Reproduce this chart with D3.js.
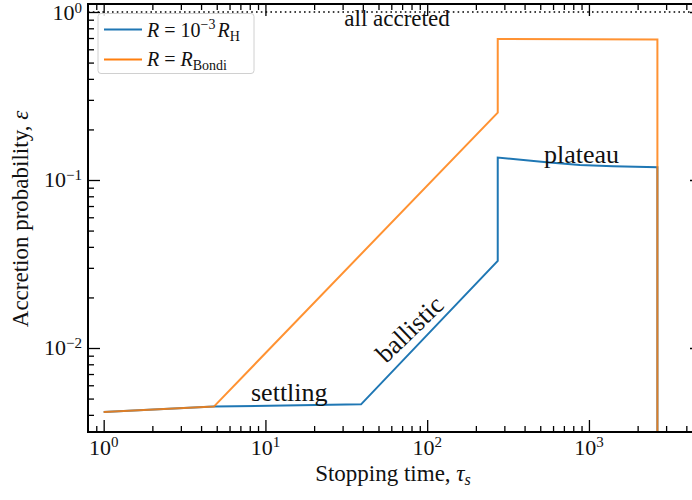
<!DOCTYPE html>
<html>
<head>
<meta charset="utf-8">
<script src="https://cdn.jsdelivr.net/npm/d3@7"></script>
<style>
  body { margin: 0; background: #fff; }
  text { font-family: "Liberation Serif", serif; fill: #111; }
</style>
</head>
<body>
<script>
// values
const tauSmall = [1, 4.8, 39, 273, 273, 547, 879, 1409, 2650, 2650]
const epsSmall = [0.00416, 0.00448, 0.00462, 0.033, 0.136, 0.1275, 0.1228, 0.1206, 0.119, 0.0001]
const tauBondi = [1, 4.8, 273, 273, 2650, 2650]
const epsBondi = [0.00416, 0.00448, 0.252, 0.69, 0.685, 0.0001]

const xMajor = [1, 10, 100, 1000]
const yMajor = [0.01, 0.1, 1]
const xLabels = ['0', '1', '2', '3']
const yLabels = ['\u22122', '\u22121', '0']

const W = 692, H = 500
const m = { left: 88, right: 702, top: 4, bottom: 432 }

const svg = d3.select('body').append('svg')
    .attr('width', W)
    .attr('height', H)

const x = d3.scaleLog().domain([0.8, 5000]).range([m.left, m.right])
const y = d3.scaleLog().domain([Math.pow(10, -2.5), 1.116]).range([m.bottom, m.top])

// minor tick positions, 2..9 in every decade
function minors(dom) {
    let out = []
    for (let e = -4; e <= 4; e++) {
        for (let k = 2; k <= 9; k++) {
            let v = k * Math.pow(10, e)
            if (v > dom[0] && v < dom[1]) out.push(v)
        }
    }
    return out
}

svg.append('clipPath').attr('id', 'clip')
  .append('rect')
    .attr('x', m.left).attr('y', m.top)
    .attr('width', m.right - m.left).attr('height', m.bottom - m.top)

const plot = svg.append('g').attr('clip-path', 'url(#clip)')

// all accreted line
plot.append('line')
    .attr('x1', m.left).attr('x2', m.right)
    .attr('y1', y(1)).attr('y2', y(1))
    .attr('stroke', '#000')
    .attr('stroke-width', 1.6)
    .attr('stroke-dasharray', '1.6,3.2')

const line = d3.line()
    .x(d => x(d[0]))
    .y(d => y(d[1]))

plot.append('path')
    .datum(tauSmall.map((t, i) => [t, epsSmall[i]]))
    .attr('d', line)
    .attr('fill', 'none')
    .attr('stroke', '#1f77b4')
    .attr('stroke-width', 2)
    .attr('stroke-linejoin', 'miter')

plot.append('path')
    .datum(tauBondi.map((t, i) => [t, epsBondi[i]]))
    .attr('d', line)
    .attr('fill', 'none')
    .attr('stroke', '#ff7f0e')
    .attr('stroke-opacity', 0.85)
    .attr('stroke-width', 2)

// axes with inward ticks on all four sides
const axes = svg.append('g')
function drawAxis(axis, tx, ty) {
    axes.append('g')
        .attr('transform', `translate(${tx},${ty})`)
        .call(axis)
        .call(g => g.select('.domain').remove())
        .call(g => g.selectAll('line').attr('stroke', '#000').attr('stroke-width', 1.3))
}
const xMin = minors(x.domain()), yMin = minors(y.domain())
drawAxis(d3.axisBottom(x).tickValues(xMajor).tickSize(-12).tickFormat(''), 0, m.bottom)
drawAxis(d3.axisBottom(x).tickValues(xMin).tickSize(-6).tickFormat(''), 0, m.bottom)
drawAxis(d3.axisTop(x).tickValues(xMajor).tickSize(-12).tickFormat(''), 0, m.top)
drawAxis(d3.axisTop(x).tickValues(xMin).tickSize(-6).tickFormat(''), 0, m.top)
drawAxis(d3.axisLeft(y).tickValues(yMajor).tickSize(-12).tickFormat(''), m.left, 0)
drawAxis(d3.axisLeft(y).tickValues(yMin).tickSize(-6).tickFormat(''), m.left, 0)
drawAxis(d3.axisRight(y).tickValues(yMajor).tickSize(-12).tickFormat(''), m.right, 0)
drawAxis(d3.axisRight(y).tickValues(yMin).tickSize(-6).tickFormat(''), m.right, 0)

axes.append('rect')
    .attr('x', m.left).attr('y', m.top)
    .attr('width', m.right - m.left).attr('height', m.bottom - m.top)
    .attr('fill', 'none')
    .attr('stroke', '#000')
    .attr('stroke-width', 2)

// tick labels
xMajor.forEach((v, i) => {
    let t = svg.append('text')
        .attr('x', x(v)).attr('y', m.bottom + 23)
        .attr('text-anchor', 'middle')
        .attr('font-size', 22)
    t.append('tspan').text('10')
    t.append('tspan').attr('dy', -8).attr('font-size', 15).text(xLabels[i])
})
yMajor.forEach((v, i) => {
    let t = svg.append('text')
        .attr('x', 82).attr('y', Math.max(y(v) + 7, 20))
        .attr('text-anchor', 'end')
        .attr('font-size', 22)
    t.append('tspan').text('10')
    t.append('tspan').attr('dy', -7).attr('font-size', 15).text(yLabels[i])
})

// axis titles
const xt = svg.append('text')
    .attr('x', 393).attr('y', 481)
    .attr('text-anchor', 'middle')
    .attr('font-size', 23)
xt.append('tspan').text('Stopping time, ')
xt.append('tspan').attr('font-style', 'italic').text('\u03c4')
xt.append('tspan').attr('font-style', 'italic').attr('font-size', 16).attr('dy', 4).text('s')

const yt = svg.append('text')
    .attr('transform', 'translate(28,219) rotate(-90)')
    .attr('text-anchor', 'middle')
    .attr('font-size', 23)
yt.append('tspan').text('Accretion probability, ')
yt.append('tspan').attr('font-style', 'italic').text('\u03b5')

// annotations
svg.append('text').attr('x', 397).attr('y', 26)
    .attr('text-anchor', 'middle').attr('font-size', 23).text('all accreted')
svg.append('text').attr('x', 251).attr('y', 401)
    .attr('font-size', 26).text('settling')
svg.append('text').attr('transform', 'translate(386,364) rotate(-44)')
    .attr('font-size', 26).text('ballistic')
svg.append('text').attr('x', 544).attr('y', 163)
    .attr('font-size', 26).text('plateau')

// legend
const lg = svg.append('g')
lg.append('rect')
    .attr('x', 98).attr('y', 13.5)
    .attr('width', 156).attr('height', 60)
    .attr('rx', 3)
    .attr('fill', '#fff').attr('fill-opacity', 0.85)
    .attr('stroke', '#d0d0d0').attr('stroke-width', 1)

const legendItems = [
    { color: '#1f77b4', y: 29.5 },
    { color: '#ff7f0e', y: 59.5 }
]
legendItems.forEach(d => {
    lg.append('line')
        .attr('x1', 104).attr('x2', 142)
        .attr('y1', d.y).attr('y2', d.y)
        .attr('stroke', d.color).attr('stroke-width', 2)
})
const l1 = lg.append('text').attr('x', 147).attr('y', 37).attr('font-size', 20)
l1.append('tspan').attr('font-style', 'italic').text('R')
l1.append('tspan').text(' = 10')
l1.append('tspan').attr('dy', -8).attr('font-size', 14).text('\u22123')
l1.append('tspan').attr('dy', 8).attr('dx', 2).attr('font-style', 'italic').text('R')
l1.append('tspan').attr('dy', 4).attr('font-size', 14).text('H')

const l2 = lg.append('text').attr('x', 147).attr('y', 66).attr('font-size', 20)
l2.append('tspan').attr('font-style', 'italic').text('R')
l2.append('tspan').text(' = ')
l2.append('tspan').attr('font-style', 'italic').text('R')
l2.append('tspan').attr('dy', 4).attr('font-size', 14).text('Bondi')
</script>
</body>
</html>
